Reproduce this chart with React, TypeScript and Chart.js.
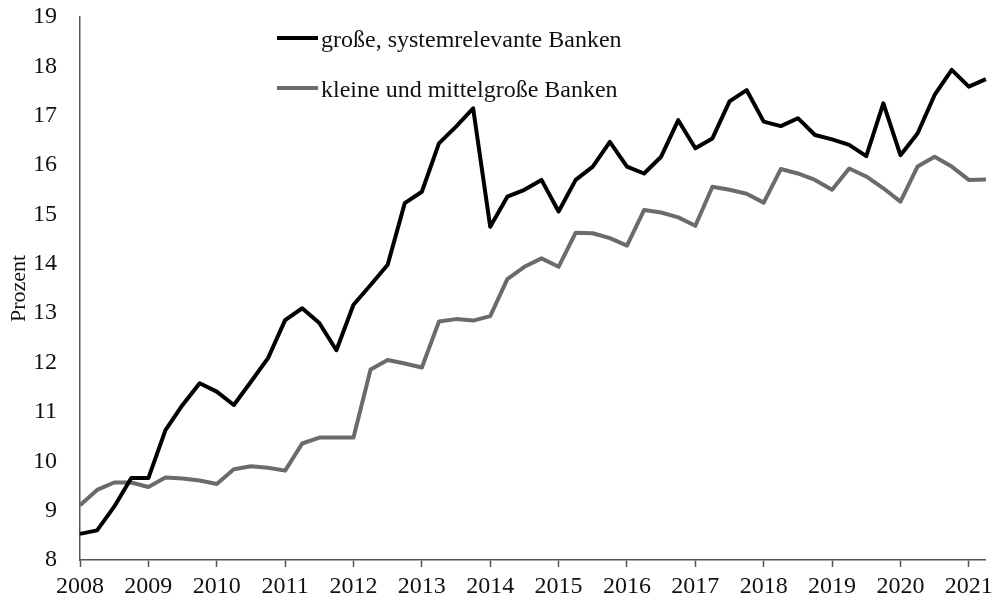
import React, { useEffect, useRef } from "react";
import { Chart, registerables } from "chart.js";

Chart.register(...registerables);

const YEARS = [2008, 2009, 2010, 2011, 2012, 2013, 2014, 2015, 2016, 2017, 2018, 2019, 2020, 2021];
const QUARTERS = ["Q1", "Q2", "Q3", "Q4"];

const SERIES_NAMES = ["große, systemrelevante Banken", "kleine und mittelgroße Banken"];

const LARGE_BANKS = [
  8.53, 8.6, 9.08, 9.66, 9.66, 10.63, 11.14, 11.58, 11.41, 11.14,
  11.61, 12.09, 12.86, 13.1, 12.8, 12.25, 13.17, 13.57, 13.98, 15.23,
  15.46, 16.44, 16.78, 17.15, 14.75, 15.36, 15.5, 15.7, 15.06, 15.7,
  15.97, 16.47, 15.97, 15.83, 16.17, 16.91, 16.34, 16.54, 17.29, 17.52,
  16.88, 16.79, 16.95, 16.61, 16.52, 16.41, 16.18, 17.25, 16.2, 16.64,
  17.42, 17.93, 17.59, 17.74,
];

const SMALL_BANKS = [
  9.11, 9.42, 9.57, 9.57, 9.48, 9.67, 9.65, 9.61, 9.54, 9.84,
  9.9, 9.87, 9.81, 10.36, 10.48, 10.48, 10.48, 11.86, 12.05, 11.98,
  11.9, 12.83, 12.88, 12.85, 12.94, 13.69, 13.94, 14.11, 13.94, 14.63,
  14.62, 14.52, 14.37, 15.09, 15.04, 14.94, 14.77, 15.56, 15.5, 15.42,
  15.24, 15.92, 15.83, 15.7, 15.5, 15.93, 15.77, 15.53, 15.26, 15.97,
  16.17, 15.97, 15.7, 15.71,
];

const Y_MIN = 8;
const Y_MAX = 19;
const Y_TITLE = "Prozent";

const LABELS: string[] = [];
for (const y of YEARS) {
  for (const q of QUARTERS) {
    if (LABELS.length < LARGE_BANKS.length) LABELS.push(`${y}${q}`);
  }
}

const FONT = "'Liberation Serif', 'Times New Roman', serif";

const legendPlugin = {
  id: "customLegend",
  afterDraw(chart: any) {
    const { ctx, chartArea } = chart;
    const x0 = chartArea.left + 197;
    const x1 = chartArea.left + 238;
    const rows = [21, 71];
    ctx.save();
    chart.data.datasets.forEach((ds: any, i: number) => {
      const y = chartArea.top + rows[i];
      ctx.strokeStyle = ds.borderColor;
      ctx.lineWidth = ds.borderWidth;
      ctx.lineCap = "butt";
      ctx.beginPath();
      ctx.moveTo(x0, y);
      ctx.lineTo(x1, y);
      ctx.stroke();
      ctx.fillStyle = "#111";
      ctx.font = `24px ${FONT}`;
      ctx.textBaseline = "alphabetic";
      ctx.textAlign = "left";
      ctx.fillText(ds.label, x1 + 3, y + 8.5);
    });
    ctx.restore();
  },
};

export default function App() {
  const ref = useRef<HTMLCanvasElement>(null);
  useEffect(() => {
    document.body.style.margin = "0";
    const canvas = ref.current;
    if (!canvas) return;
    const chart = new Chart(canvas, {
      type: "line",
      data: {
        labels: LABELS,
        datasets: [
          {
            label: SERIES_NAMES[0],
            data: LARGE_BANKS,
            borderColor: "#000000",
            borderWidth: 4,
            pointRadius: 0,
            tension: 0,
            borderJoinStyle: "round",
          },
          {
            label: SERIES_NAMES[1],
            data: SMALL_BANKS,
            borderColor: "#6b6b6b",
            borderWidth: 4,
            pointRadius: 0,
            tension: 0,
            borderJoinStyle: "round",
          },
        ],
      },
      options: {
        responsive: false,
        animation: false,
        layout: { padding: { left: 0, right: 10, top: 17, bottom: 0 } },
        plugins: { legend: { display: false }, tooltip: { enabled: false } },
        scales: {
          x: {
            type: "category",
            offset: false,
            grid: {
              drawOnChartArea: false,
              drawTicks: true,
              tickLength: 7,
              tickColor: "#555",
              tickWidth: 1.5,
            },
            border: { color: "#555", width: 1.5 },
            ticks: {
              autoSkip: false,
              maxRotation: 0,
              padding: 5,
              color: "#111",
              font: { family: FONT, size: 24 },
              callback: function (this: any, value: any) {
                const lab = this.getLabelForValue(value) as string;
                return lab.endsWith("Q1") ? lab.slice(0, 4) : null;
              },
            },
            afterFit(scale: any) {
              scale.height = 41;
            },
          },
          y: {
            min: Y_MIN,
            max: Y_MAX,
            grid: { display: true, drawOnChartArea: false, drawTicks: false },
            border: { color: "#555", width: 1.5 },
            ticks: {
              stepSize: 1,
              padding: 23,
              color: "#111",
              font: { family: FONT, size: 24 },
            },
            title: {
              display: true,
              text: Y_TITLE,
              color: "#111",
              font: { family: FONT, size: 22 },
              padding: { top: 6, bottom: 0 },
            },
            afterFit(scale: any) {
              scale.width = 80;
              scale.paddingTop = 0;
              scale.paddingBottom = 0;
            },
          },
        },
      },
      plugins: [legendPlugin],
    });
    return () => chart.destroy();
  }, []);
  return (
    <div style={{ width: 998, height: 601 }}>
      <canvas ref={ref} width={998} height={601} />
    </div>
  );
}
